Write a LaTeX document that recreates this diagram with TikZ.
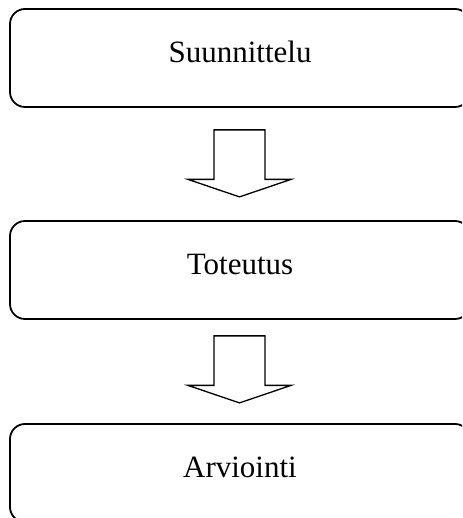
\documentclass[tikz,border=0pt]{standalone}
\usepackage{fontspec}
\setmainfont{Liberation Serif}
\begin{document}
\begin{tikzpicture}[x=1pt,y=1pt,
  phase/.style={draw=black, line width=1.8pt, rounded corners=15pt,
    minimum width=460pt, minimum height=98pt, inner sep=0pt,
    text height=22pt, text depth=12pt,
    font=\fontsize{31}{37}\selectfont},
  blockarrow/.style={draw=black, line width=1.3pt, fill=white, line join=miter},
  pics/downarrow/.style={code={
    \draw[blockarrow] (-25.5,0) -- (25.5,0) -- (25.5,-49.5) -- (51.5,-49.5)
      -- (0,-67) -- (-51.5,-49.5) -- (-25.5,-49.5) -- cycle;
  }}]
\useasboundingbox (0,0) rectangle (462,518);
\clip (0,0) rectangle (462,518);

% the three phases
\node[phase] (plan)  at (240,460) {Suunnittelu};
\node[phase] (build) at (240,248) {Toteutus};
\node[phase] (eval)  at (240,45)  {Arviointi};

% block arrows between the phases
\coordinate (a1) at ([yshift=-22pt]plan.south -| 239.5,0);
\coordinate (a2) at ([yshift=-16pt]build.south -| 239.5,0);
\pic at (a1) {downarrow};
\pic at (a2) {downarrow};
\end{tikzpicture}
\end{document}
